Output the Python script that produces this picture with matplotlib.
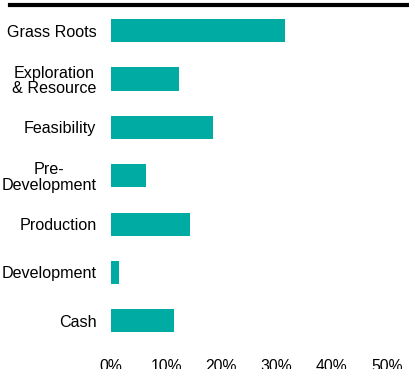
import matplotlib.pyplot as plt
from matplotlib.lines import Line2D

stages = ['Grass Roots', 'Exploration\n& Resource', 'Feasibility', 'Pre-\nDevelopment',
          'Production', 'Development', 'Cash']
shares = [0.316, 0.124, 0.185, 0.063, 0.143, 0.015, 0.114]
ticks = [0, 0.1, 0.2, 0.3, 0.4, 0.5]
tick_labels = ['0%', '10%', '20%', '30%', '40%', '50%']

plt.rcParams['font.family'] = ['Liberation Sans', 'DejaVu Sans']
fig = plt.figure(figsize=(4.09, 3.69), dpi=100)
ax = fig.add_axes([111/409, 1-345/369, (386.7-111)/409, (345-6.5)/369])

ax.barh(range(len(stages)), shares, height=0.48, color='#00aba3')
ax.set_xlim(0, 0.5)
ax.set_ylim(6.5, -0.5)
ax.set_yticks(range(len(stages)))
ax.set_yticklabels(stages, fontsize=11.6, linespacing=1.05, multialignment='center')
ax.set_xticks(ticks)
ax.set_xticklabels(tick_labels, fontsize=11.3)
ax.tick_params(length=0, pad=10, axis='x')
ax.tick_params(length=0, pad=10.5, axis='y')
for s in ax.spines.values():
    s.set_visible(False)

# black rule under the (cut off) title
fig.add_artist(Line2D([10/409, 1], [1-5/369, 1-5/369], color='black', lw=3,
                      transform=fig.transFigure))

fig.savefig('out.png', dpi=100)
